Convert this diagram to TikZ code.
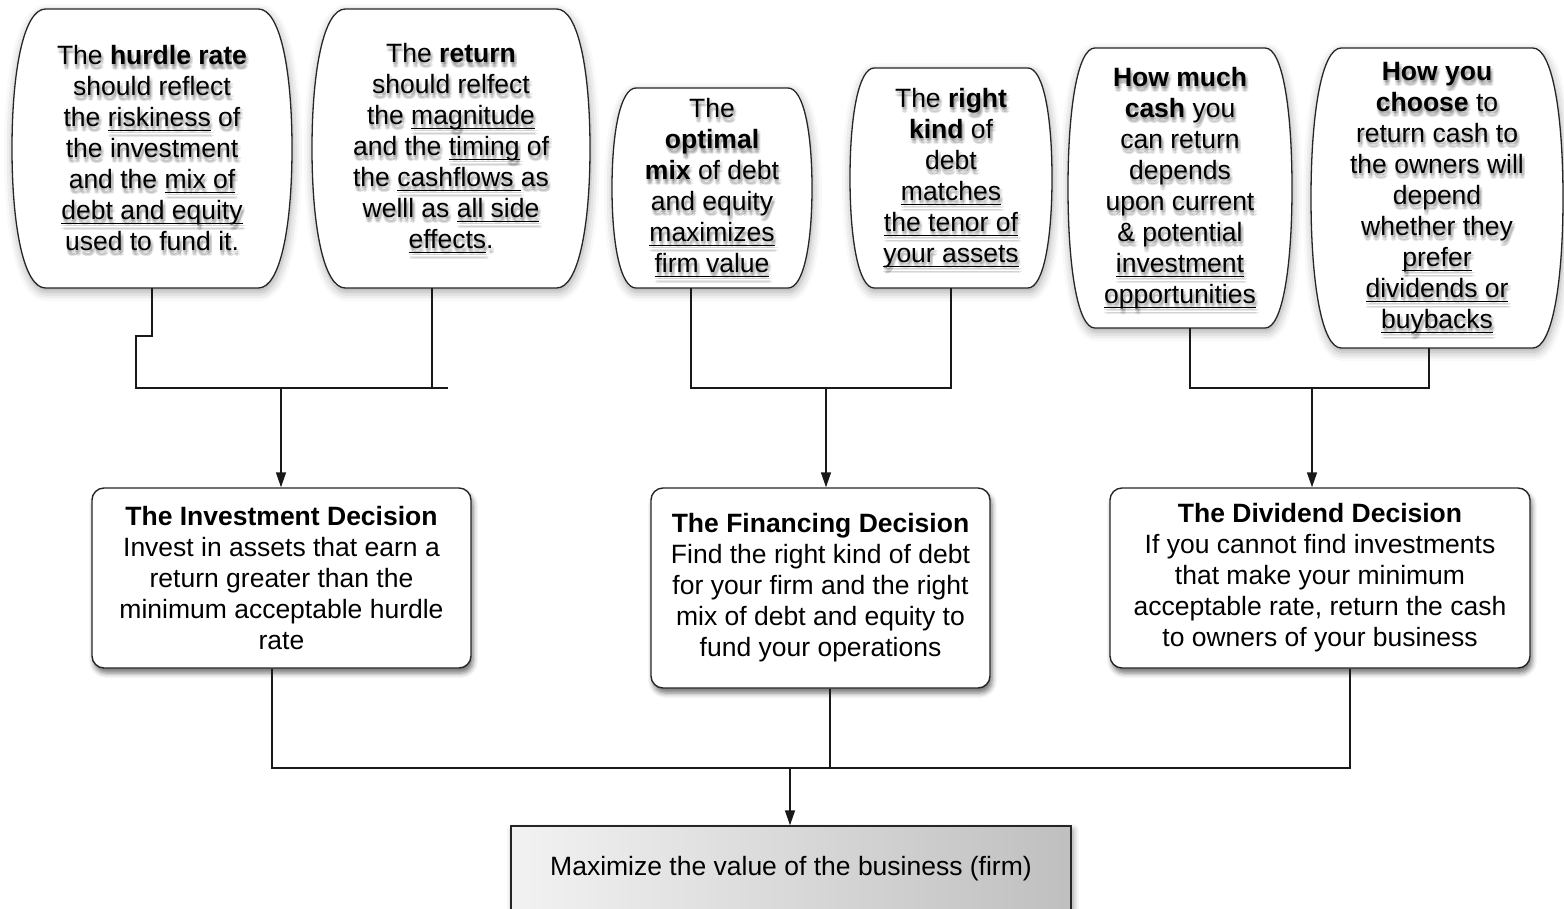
\documentclass[tikz,border=0pt]{standalone}
\usepackage{fontspec}
\setmainfont{Liberation Sans}
\usetikzlibrary{arrows.meta,calc,shadows.blur}

% underlined phrase: a rule placed a little below the baseline
\newcommand\ulin[1]{\leavevmode\setbox0=\hbox{#1}\rlap{\rule[-4.5pt]{\wd0}{1.3pt}}\box0\relax}

\tikzset{
  every node/.style={font=\fontsize{26.5}{31}\selectfont},
  topbox/.style={align=center, inner sep=0pt},
  textshade/.style={topbox, opacity=0.09},
  barrel/.style={draw=black!85, line width=1.3pt, fill=white,
    blur shadow={shadow xshift=1pt, shadow yshift=-4pt, shadow blur radius=9pt, shadow opacity=35}},
  decision/.style={draw=black!85, line width=1.4pt, fill=white, rounded corners=12pt,
    align=center, inner sep=0pt,
    blur shadow={shadow xshift=2pt, shadow yshift=-5pt, shadow blur radius=5pt, shadow opacity=55}},
  goalbox/.style={draw=black!85, line width=1.4pt, left color=black!5, right color=black!25,
    align=center, inner sep=0pt,
    blur shadow={shadow xshift=2pt, shadow yshift=-4pt, shadow blur radius=6pt, shadow opacity=45}},
  conn/.style={draw=black!90, line width=1.4pt},
  arr/.style={conn, -{Triangle[length=15pt,width=10pt]}},
}

% a principle: barrel outline (flat top and bottom, bulging sides),
% a soft shadow under the lettering, then the named text node
% #1 name, #2 cx, #3 cy, #4 width, #5 height, #6 text
\newcommand\principle[6]{%
  \pgfmathsetmacro\bL{#2-#4/2}\pgfmathsetmacro\bR{#2+#4/2}%
  \pgfmathsetmacro\bT{#3-#5/2}\pgfmathsetmacro\bB{#3+#5/2}%
  \pgfmathsetmacro\bd{0.12*#4}%
  \pgfmathsetmacro\bLi{\bL+\bd}\pgfmathsetmacro\bRi{\bR-\bd}%
  \pgfmathsetmacro\bLc{\bL+0.35*\bd}\pgfmathsetmacro\bRc{\bR-0.35*\bd}%
  \pgfmathsetmacro\bTc{\bT+0.22*#5}\pgfmathsetmacro\bBc{\bB-0.22*#5}%
  \path[barrel] (\bLi,\bT) -- (\bRi,\bT)
    .. controls (\bRc,\bT) and (\bR,\bTc) .. (\bR,#3)
    .. controls (\bR,\bBc) and (\bRc,\bB) .. (\bRi,\bB)
    -- (\bLi,\bB)
    .. controls (\bLc,\bB) and (\bL,\bBc) .. (\bL,#3)
    .. controls (\bL,\bTc) and (\bLc,\bT) .. cycle;
  \foreach \dx/\dy in {0/2,3/2,0/5,3/5,1.5/3.5,1.5/6}
    \node[textshade] at ({#2+\dx},{#3+\dy}) {#6};
  \node[topbox, minimum width=#4pt, minimum height=#5pt] (#1) at (#2,#3) {#6};}

\begin{document}
\begin{tikzpicture}[x=1pt,y=-1pt]
\useasboundingbox (0,0) rectangle (1564,908);
\clip (0,0) rectangle (1564,908);

% ---- principles (top row)
\principle{b1}{152}{148.5}{280}{279}
  {The \textbf{hurdle rate}\\ should reflect\\ the \ulin{riskiness} of\\ the investment\\
   and the \ulin{mix of}\\ \ulin{debt and equity}\\ used to fund it.}
\principle{b2}{451}{148.5}{278}{279}
  {The \textbf{return}\\ should relfect\\ the \ulin{magnitude}\\ and the \ulin{timing} of\\
   the \ulin{cashflows\ }as\\ welll as \ulin{all side}\\ \ulin{effects}.}
\principle{b3}{712}{188}{200}{200}
  {The\\ \textbf{optimal}\\ \textbf{mix} of debt\\ and equity\\ \ulin{maximizes}\\ \ulin{firm value}}
\principle{b4}{951}{178}{202}{220}
  {The \textbf{right}\\ \textbf{kind} of\\ debt\\ \ulin{matches}\\ \ulin{the tenor of}\\ \ulin{your assets}}
\principle{b5}{1180}{188}{224}{280}
  {\textbf{How much}\\ \textbf{cash} you\\ can return\\ depends\\ upon current\\ \& potential\\
   \ulin{investment}\\ \ulin{opportunities}}
\principle{b6}{1437}{198}{252}{300}
  {\textbf{How you}\\ \textbf{choose} to\\ return cash to\\ the owners will\\ depend\\ whether they\\
   \ulin{prefer}\\ \ulin{dividends or}\\ \ulin{buybacks}}

% ---- the three decisions
\node[decision, minimum width=379pt, minimum height=180pt] (inv) at (281.5,578)
  {\textbf{The Investment Decision}\\ Invest in assets that earn a\\ return greater than the\\
   minimum acceptable hurdle\\ rate};
\node[decision, minimum width=339pt, minimum height=200pt] (fin) at (820.5,588)
  {\textbf{The Financing Decision}\\ Find the right kind of debt\\ for your firm and the right\\
   mix of debt and equity to\\ fund your operations};
\node[decision, minimum width=420pt, minimum height=180pt] (div) at (1320,578)
  {\textbf{The Dividend Decision}\\ If you cannot find investments\\ that make your minimum\\
   acceptable rate, return the cash\\ to owners of your business};

% ---- objective
\node[goalbox, minimum width=560pt, minimum height=86pt] (goal) at (791,869)
  {\raisebox{3pt}{Maximize the value of the business (firm)}};

% ---- joints
\coordinate (k1a) at (152,336);
\coordinate (k1b) at (136,336);
\coordinate (k1c) at (136,388);
\coordinate (k1d) at (448,388);
\coordinate (j1) at (281,388);
\coordinate (j2) at (826,388);
\coordinate (j3) at (1312,388);
\coordinate (j4) at (790,768);

% investment group
\draw[conn] (b1.south) -- (k1a) -- (k1b) -- (k1c) -- (k1d);
\draw[conn] ($(b2.south)+(-19,0)$) -- ++(0,100);
\draw[arr] (j1) -- (j1 |- inv.north);
% financing group
\draw[conn] ($(b3.south)+(-21,0)$) |- (j2) -| (b4.south);
\draw[arr] (j2) -- (j2 |- fin.north);
% dividend group
\draw[conn] ($(b5.south)+(10,0)$) |- (j3) -| ($(b6.south)+(-8,0)$);
\draw[arr] (j3) -- (j3 |- div.north);
% decisions to objective
\draw[conn] ($(inv.south)+(-9.5,0)$) |- (j4) -| ($(div.south)+(30,0)$);
\draw[conn] ($(fin.south)+(9.5,0)$) -- ($(fin.south)+(9.5,80)$);
\draw[arr] (j4) -- (j4 |- goal.north);
\end{tikzpicture}
\end{document}
